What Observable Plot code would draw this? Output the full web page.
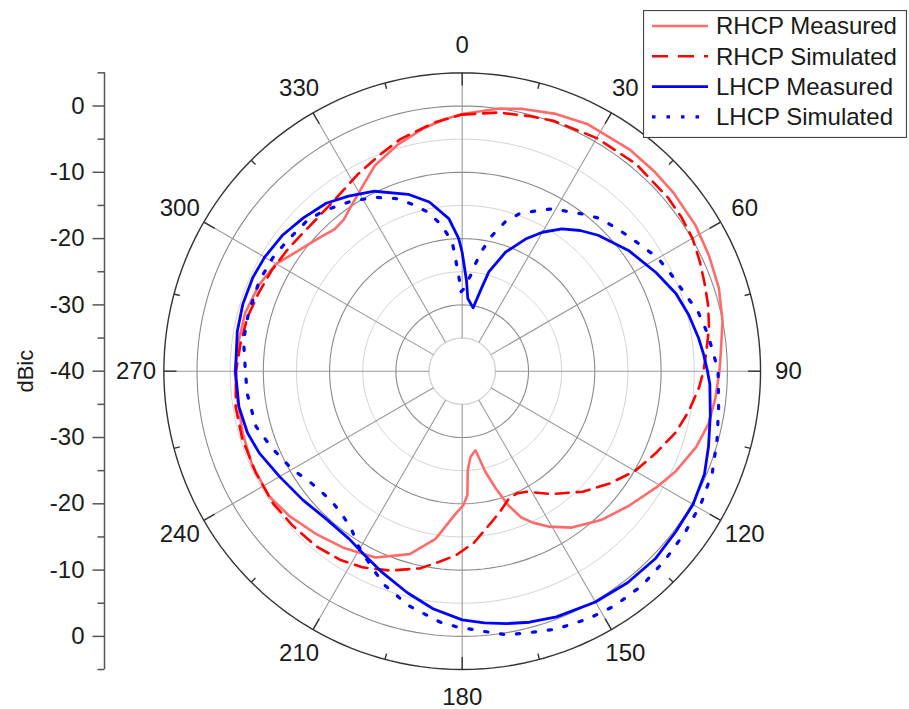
<!DOCTYPE html>
<html>
<head>
<meta charset="utf-8">
<script src="https://cdn.jsdelivr.net/npm/d3@7"></script>
<script src="https://cdn.jsdelivr.net/npm/@observablehq/plot@0.6"></script>
<style>
  body { margin: 0; background: #fff; }
  #wrap { position: relative; width: 909px; height: 709px; }
  #legend { position: absolute; left: 643px; top: 10px; }
</style>
</head>
<body>
<div id="wrap"><div id="chart"></div><div id="legend"></div></div>
<script>
// ---------------- data (angle in degrees, gain in dBic) ----------------
const rhcpMeasAngle = [0,8,13,20,27,37,44,50,58,65,72,79,86,90,96,102,108,115,121,129,137,145,151,155,158,161,164,167,170.5,174.5,176.8,177.6,179.5,183,189,196,205,214,222,230,237,246,254,263,270,278,285,293,300,305,313,318,322,326,332,337,344,351,356,360];
const rhcpMeasDb    = [-1.2,0.0,0.6,1.3,1.8,1.9,1.8,1.7,1.5,1.1,0.7,0.0,-0.9,-1.2,-1.6,-2.0,-2.9,-4.4,-5.9,-7.7,-9.3,-11.2,-13.2,-14.8,-16.2,-18.6,-21.6,-24.4,-27.9,-27.0,-25.0,-21.3,-19.8,-18.3,-14.4,-11.3,-9.0,-7.9,-7.0,-6.0,-5.3,-5.3,-5.6,-5.8,-5.7,-6.0,-6.1,-6.7,-7.6,-9.0,-10.5,-11.2,-11.0,-10.0,-8.2,-6.3,-4.5,-2.9,-1.9,-1.2];

const rhcpSimAngle = [0,8,15,20,30,40,50,55,60,65,70,75,80,85,90,94,100,106,113,120,127.5,135,144,152,156,160,164.5,169,176,182,187,192,200,207,213,220,228,235,244,253,261,270,277,284,291,298,305,311,317,322,327,332,339,345,350,354,360];
const rhcpSimDb    = [-1.3,-0.6,-0.2,0.2,0.6,0.8,0.6,0.4,0.1,-0.5,-1.1,-1.6,-2.2,-3.0,-3.6,-4.2,-5.3,-6.5,-8.3,-9.9,-12.1,-14.3,-17.1,-19.4,-19.8,-19.5,-18.2,-16.8,-14.1,-12.2,-11.0,-9.6,-8.0,-6.8,-6.1,-5.6,-5.4,-5.2,-5.3,-5.3,-5.4,-5.9,-6.3,-6.6,-7.1,-7.5,-7.9,-8.2,-8.2,-7.9,-7.3,-6.4,-5.1,-3.8,-3.0,-2.2,-1.3];

const lhcpMeasAngle = [0,0.8,2.7,4.4,9.8,12.8,15,20,25.6,30,35,40,45,54,63,70,76,82,86,90,93,100,107,113,120,127,134,142,150,159,165,170,175,180,187,194,202,208,214,223,231,240,248,254,261,270,280,287,294,300,307,314,321,327,334,343,349,355,358.5,360];
const lhcpMeasDb    = [-22.1,-23.6,-26.3,-29.0,-30.3,-27.5,-24.5,-20.9,-17.9,-15.8,-13.8,-12.3,-11.0,-9.0,-7.2,-5.7,-4.8,-4.0,-3.5,-3.0,-2.6,-2.0,-1.15,-0.3,0.2,0.3,0.6,0.5,0.2,-0.3,-0.8,-1.35,-1.9,-2.5,-3.9,-5.6,-7.4,-8.6,-9.5,-9.7,-9.1,-8.2,-7.0,-6.3,-5.9,-5.8,-5.55,-5.4,-5.4,-5.6,-6.0,-6.7,-7.4,-8.5,-9.8,-12.1,-14.0,-16.9,-20.0,-22.1];

const lhcpSimAngle = [-0.8,1,3,5,7,9.4,12.5,16,20,25,29,34,38,42,47,51.5,56,60,64,71,76,81,86,90,98,105,112,119,126,133,140,147,153,160,167,171,174,181,185,193,200,205,211,215,220,225,230,234,240,248,255,264,270,278,285,294,301,307,314,319,327,333.5,339,343,348,352,355.6,356.6,358,359.2];
const lhcpSimDb    = [-28.0,-27.6,-26.6,-25.5,-23.7,-21.5,-19.0,-16.6,-14.7,-13.3,-12.0,-11.0,-10.0,-9.0,-8.3,-7.6,-6.8,-5.9,-5.4,-4.4,-3.3,-2.6,-2.0,-1.4,-0.95,-0.2,0.7,1.2,1.5,1.8,2.2,2.2,1.9,1.4,0.6,0.2,-0.4,-1.4,-2.0,-3.75,-5.7,-7.5,-9.4,-10.9,-11.8,-12.2,-12.0,-11.6,-10.4,-9.05,-7.8,-7.4,-7.3,-6.7,-6.6,-6.5,-6.7,-7.1,-7.4,-8.0,-9.4,-10.7,-12.1,-13.6,-15.5,-17.8,-20.5,-23.0,-25.8,-28.0];

const seriesNames = ["RHCP Measured","RHCP Simulated","LHCP Measured","LHCP Simulated"];
const angleTicks = [0,30,60,90,120,150,180,210,240,270,300,330];
const minorAngleTicks = [15,45,75,105,135,165,195,225,255,285,315,345];
const radialTicks = [0,-10,-20,-30,-40];
const radialMinorTicks = [5,-5,-15,-25,-35];
const gridMajor = [-30,-20,-10,0];
const gridMinor = [-35,-25,-15,-5];
const axisLabel = "dBic";

// ---------------- polar helpers ----------------
const RMIN = -40, RMAX = 5, RHOLE = -35;
const rad = a => a * Math.PI / 180;
const polar = (a, db) => ({x: (db - RMIN) * Math.sin(rad(a)), y: (db - RMIN) * Math.cos(rad(a))});
const pts = (angles, dbs) => angles.map((a, i) => polar(a, dbs[i]));
const circle = (db) => d3.range(0, 361, 2).map(a => ({...polar(a, db), ring: db}));

const R = RMAX - RMIN;           // 45 units at outer circle
const PX = 6.63;                 // pixels per dB
const cx = 461.7, cy = 370.7;
const W = 909, H = 709;
const mL = cx - R * PX, mT = cy - R * PX;
const mR = W - mL - 2 * R * PX, mB = H - mT - 2 * R * PX;
const pxToX = px => (px - cx) / PX;   // for marks placed outside the polar disc
const pxToY = py => (cy - py) / PX;

const styles = [
  {stroke: "#ff6b6b", strokeWidth: 2.6},
  {stroke: "#ff0000", strokeWidth: 2.6, strokeDasharray: "13,8"},
  {stroke: "#0000ff", strokeWidth: 2.8},
  {stroke: "#0000ff", strokeWidth: 3.2, strokeDasharray: "3.2,12.8"}
];
const data = [
  pts(rhcpMeasAngle, rhcpMeasDb),
  pts(rhcpSimAngle, rhcpSimDb),
  pts(lhcpMeasAngle, lhcpMeasDb),
  pts(lhcpSimAngle, lhcpSimDb)
];

const axisX = pxToX(104);
const yFor = (db, sign) => sign * (db - RMIN);
const leftMajor = radialTicks.flatMap(d => d === RMIN ? [{v: d, y: 0}] : [{v: d, y: yFor(d, 1)}, {v: d, y: yFor(d, -1)}]);
const leftMinor = radialMinorTicks.flatMap(d => [{y: yFor(d, 1)}, {y: yFor(d, -1)}]);

const chart = Plot.plot({
  width: W, height: H,
  marginLeft: mL, marginRight: mR, marginTop: mT, marginBottom: mB,
  x: {domain: [-R, R], axis: null},
  y: {domain: [-R, R], axis: null},
  style: {fontFamily: "'Liberation Sans', Arial, sans-serif", fontSize: "24px", background: "#fff", overflow: "visible"},
  marks: [
    // grid rings
    Plot.line(gridMinor.flatMap(circle), {x: "x", y: "y", z: "ring", stroke: "#d4d4d4", strokeWidth: 1}),
    Plot.line(circle(RHOLE), {x: "x", y: "y", stroke: "#d4d4d4", strokeWidth: 1.2}),
    Plot.line(gridMajor.flatMap(circle), {x: "x", y: "y", z: "ring", stroke: "#8a8a8a", strokeWidth: 1.1}),
    // spokes
    Plot.link(angleTicks, {
      x1: a => polar(a, RHOLE).x, y1: a => polar(a, RHOLE).y,
      x2: a => polar(a, RMAX).x, y2: a => polar(a, RMAX).y,
      stroke: "#9a9a9a", strokeWidth: 1.1
    }),
    // outer circle + ticks
    Plot.line(circle(RMAX), {x: "x", y: "y", stroke: "#333", strokeWidth: 1.4}),
    Plot.link(angleTicks, {
      x1: a => polar(a, RMAX - 1.9).x, y1: a => polar(a, RMAX - 1.9).y,
      x2: a => polar(a, RMAX).x, y2: a => polar(a, RMAX).y,
      stroke: "#333", strokeWidth: 1.4
    }),
    Plot.link(minorAngleTicks, {
      x1: a => polar(a, RMAX - 0.9).x, y1: a => polar(a, RMAX - 0.9).y,
      x2: a => polar(a, RMAX).x, y2: a => polar(a, RMAX).y,
      stroke: "#333", strokeWidth: 1.4
    }),
    // angle labels
    Plot.text(angleTicks, {
      x: a => polar(a, RMIN + 49.2).x, y: a => polar(a, RMIN + 49.2).y,
      text: a => String(a), fill: "#1a1a1a", fontSize: 24
    }),
    // curves
    ...data.map((d, i) => Plot.line(d, {x: "x", y: "y", ...styles[i], strokeLinejoin: "round"})),
    // left radial axis (mirrored)
    Plot.ruleX([axisX], {y1: -R, y2: R, stroke: "#555", strokeWidth: 1.5}),
    Plot.link(leftMajor, {x1: pxToX(92), x2: axisX, y1: "y", y2: "y", stroke: "#555", strokeWidth: 1.5}),
    Plot.link(leftMinor, {x1: pxToX(97), x2: axisX, y1: "y", y2: "y", stroke: "#555", strokeWidth: 1.5}),
    Plot.text(leftMajor, {x: pxToX(84), y: "y", text: d => String(d.v), textAnchor: "end", fill: "#1a1a1a", fontSize: 24}),
    Plot.text([axisLabel], {x: pxToX(25), y: 0, text: d => d, rotate: -90, fill: "#1a1a1a", fontSize: 22})
  ]
});
document.getElementById("chart").appendChild(chart);

// ---------------- legend ----------------
const lg = d3.select("#legend").append("svg").attr("width", 264).attr("height", 128)
  .style("font-family", "'Liberation Sans', Arial, sans-serif");
lg.append("rect").attr("x", 0.5).attr("y", 0.5).attr("width", 263).attr("height", 127)
  .attr("fill", "#fff").attr("stroke", "#444").attr("stroke-width", 1.2);
seriesNames.forEach((name, i) => {
  const y = 16 + 30.3 * i;
  const s = styles[i];
  lg.append("line").attr("x1", 9).attr("x2", 65).attr("y1", y).attr("y2", y)
    .attr("stroke", s.stroke).attr("stroke-width", s.strokeWidth)
    .attr("stroke-dasharray", i === 1 ? "16,10" : i === 3 ? "3.5,11" : null);
  lg.append("text").attr("x", 73).attr("y", y).attr("dy", "0.35em")
    .attr("font-size", 24).attr("fill", "#1a1a1a").text(name);
});
</script>
</body>
</html>
